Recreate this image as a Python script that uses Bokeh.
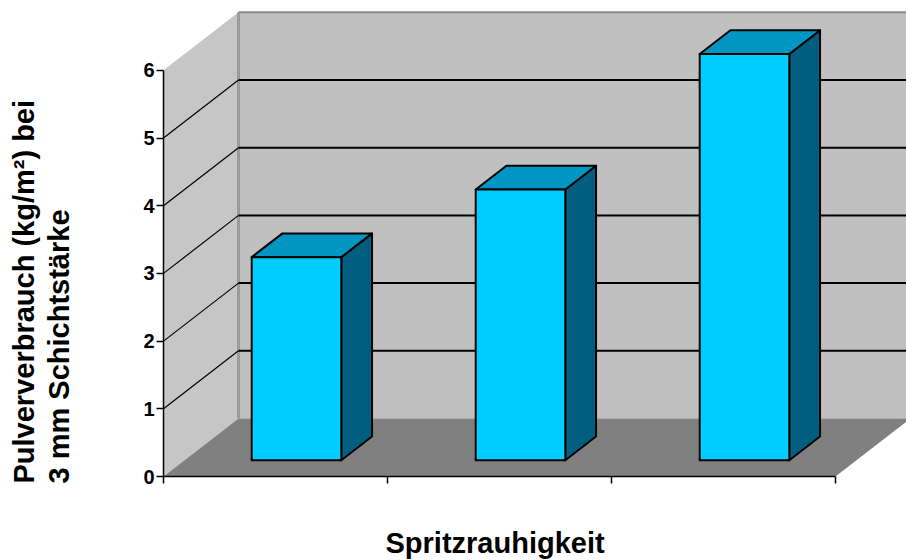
from bokeh.plotting import figure
from bokeh.models import Range1d, FixedTicker, LinearAxis, Title
from bokeh.embed import file_html
from bokeh.resources import INLINE

# ---- data ----
values = [3, 4, 6]
y_ticks = [0, 1, 2, 3, 4, 5, 6]
x_ticks = [0, 1, 2, 3]
y_title = ["Pulververbrauch (kg/m²) bei", "3 mm Schichtstärke"]
x_title = "Spritzrauhigkeit"

# ---- layout constants (pixels) ----
W, H = 906, 560
FRAME_L = 163          # frame left edge
FRAME_H = 476          # frame height (frame bottom at y=476)
PX_X = 224.0           # pixels per category
PX_Y = 67.7            # pixels per value unit
DEPTH_PX = (75.0, 58.0)
FONT = "Liberation Sans"
TITLE_SIZE = "29px"

n = len(values)
ymax = max(y_ticks)
dX = DEPTH_PX[0] / PX_X
dY = DEPTH_PX[1] / PX_Y

p = figure(width=W, height=H,
           x_range=Range1d(0, (W - FRAME_L) / PX_X),
           y_range=Range1d(0, FRAME_H / PX_Y),
           output_backend="svg", toolbar_location=None,
           min_border_left=FRAME_L, min_border_right=0,
           min_border_top=0, min_border_bottom=H - FRAME_H)
p.outline_line_color = None
p.grid.visible = False
p.background_fill_color = "white"
p.border_fill_color = "white"

# ---- walls and floor ----
p.patch([0, 0, dX, dX], [0, ymax, ymax + dY, dY],
        fill_color="#c6c6c6", line_color=None)
p.quad(left=[dX], right=[n + dX], bottom=[dY], top=[ymax + dY],
       fill_color="#c0c0c0", line_color=None)
p.patch([0, n, n + dX, dX], [0, 0, dY, dY],
        fill_color="#808080", line_color=None)
p.line([dX, n + dX], [ymax + dY, ymax + dY], line_color="#8a8a8a", line_width=2)
p.line([dX, dX], [dY, ymax + dY], line_color="#9a9a9a", line_width=3)

# gridlines: back wall and side wall
levels = [t for t in y_ticks if 0 < t < ymax]
p.multi_line([[dX, n + dX] for _ in levels], [[t + dY, t + dY] for t in levels],
             line_color="black", line_width=2)
p.multi_line([[0, dX] for _ in levels], [[t, t + dY] for t in levels],
             line_color="black", line_width=1.2)

# ---- 3D bars ----
f1, f2 = 0.28, 0.69
bw = 0.40
ox1, oy1 = f1 * dX, f1 * dY
ox2, oy2 = f2 * dX, f2 * dY
top_xs, top_ys, side_xs, side_ys = [], [], [], []
fl, fr, fb, ft = [], [], [], []
for i, v in enumerate(values):
    xl = i + 0.5 - bw / 2
    xr = xl + bw
    fl.append(xl + ox1); fr.append(xr + ox1); fb.append(oy1); ft.append(v + oy1)
    top_xs.append([xl + ox1, xr + ox1, xr + ox2, xl + ox2])
    top_ys.append([v + oy1, v + oy1, v + oy2, v + oy2])
    side_xs.append([xr + ox1, xr + ox2, xr + ox2, xr + ox1])
    side_ys.append([oy1, oy2, v + oy2, v + oy1])

p.patches(side_xs, side_ys, fill_color="#005f80", line_color="black",
          line_width=2, line_join="round")
p.patches(top_xs, top_ys, fill_color="#0096c4", line_color="black",
          line_width=2, line_join="round")
p.quad(left=fl, right=fr, bottom=fb, top=ft, fill_color="#00ccff",
       line_color="black", line_width=2, line_join="round")

# ---- axes ----
ya = p.yaxis[0]
ya.ticker = FixedTicker(ticks=y_ticks)
ya.bounds = (0, ymax)
ya.minor_tick_line_color = None
ya.major_tick_in = 0
ya.major_tick_out = 7
ya.major_label_standoff = 2
ya.axis_line_color = "black"
ya.axis_line_width = 1.5
ya.major_tick_line_width = 1.5
ya.major_label_text_font = FONT
ya.major_label_text_font_size = "20px"
ya.major_label_text_font_style = "bold"
ya.major_label_text_color = "black"

xa = p.xaxis[0]
xa.ticker = FixedTicker(ticks=x_ticks)
xa.bounds = (0, n)
xa.minor_tick_line_color = None
xa.major_tick_in = 0
xa.major_tick_out = 7
xa.major_label_standoff = 0
xa.axis_line_color = "black"
xa.axis_line_width = 1.5
xa.major_tick_line_width = 1.5
xa.major_label_overrides = {t: "" for t in x_ticks}
xa.major_label_text_font_size = "1px"


def spacer(size):
    # invisible axis with one hidden tick: only reserves `size` pixels
    return LinearAxis(ticker=FixedTicker(ticks=[1]), axis_line_color=None,
                      major_tick_line_color=None, minor_tick_line_color=None,
                      major_tick_out=size, major_tick_in=0,
                      major_label_overrides={1: ""},
                      major_label_standoff=0, major_label_text_font_size="1px")


# y title (two lines, bottom-aligned), beyond a spacer
p.add_layout(spacer(65), "left")
p.add_layout(Title(text="\n".join(y_title), align="left", vertical_align="bottom",
                   standoff=0, offset=-7, text_font=FONT, text_font_size=TITLE_SIZE,
                   text_font_style="bold", text_color="black",
                   text_line_height=1.1), "left")

# x title, beyond a spacer
p.add_layout(spacer(41), "below")
p.add_layout(Title(text=x_title, align="left", vertical_align="bottom",
                   standoff=0, offset=222, text_font=FONT, text_font_size=TITLE_SIZE,
                   text_font_style="bold", text_color="black"), "below")

open("out.html", "w").write(file_html(p, INLINE))
